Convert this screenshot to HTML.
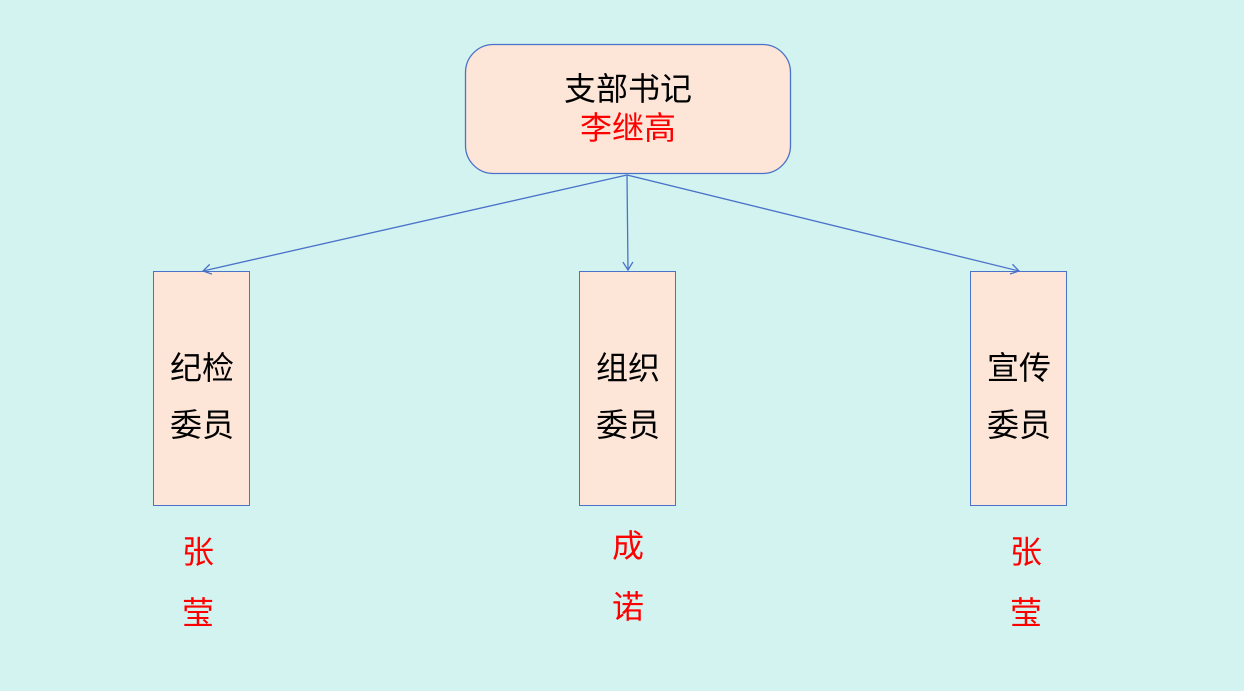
<!DOCTYPE html>
<html><head><meta charset="utf-8"><style>
body{margin:0;width:1244px;height:691px;background:#d3f3f1;position:relative;overflow:hidden;font-family:"Liberation Sans","Noto Sans CJK SC",sans-serif;}
.t{position:absolute;white-space:nowrap;text-align:center;transform:translate(-50%,-50%);font-size:32px;line-height:1;}
.r{color:#f00}
</style></head><body>
<svg width="1244" height="691" style="position:absolute;left:0;top:0">
<defs><marker id="a" markerWidth="12" markerHeight="12" refX="10" refY="6" orient="auto" markerUnits="userSpaceOnUse"><path d="M2,1 L10,6 L2,11" fill="none" stroke="#4a72c8" stroke-width="1.3"/></marker></defs>
<rect x="465.5" y="44.5" width="325" height="129" rx="28" fill="#fde6d8" stroke="#4a72c8" stroke-width="1.3"/>
<rect x="153.5" y="271.5" width="96" height="234" fill="#fde6d8" stroke="#4a72c8"/>
<rect x="579.5" y="271.5" width="96" height="234" fill="#fde6d8" stroke="#4a72c8"/>
<rect x="970.5" y="271.5" width="96" height="234" fill="#fde6d8" stroke="#4a72c8"/>
<g stroke="#4a72c8" stroke-width="1.3" fill="none">
<line x1="627" y1="175" x2="203" y2="271" marker-end="url(#a)"/>
<line x1="627" y1="175" x2="628" y2="270" marker-end="url(#a)"/>
<line x1="627" y1="175" x2="1019" y2="271" marker-end="url(#a)"/>
</g></svg>
<div class="t" style="left:628px;top:89px">支部书记</div>
<div class="t r" style="left:628px;top:128px">李继高</div>
<div class="t" style="left:202px;top:368px">纪检</div>
<div class="t" style="left:202px;top:425px">委员</div>
<div class="t" style="left:628px;top:368px">组织</div>
<div class="t" style="left:628px;top:425px">委员</div>
<div class="t" style="left:1019px;top:368px">宣传</div>
<div class="t" style="left:1019px;top:425px">委员</div>
<div class="t r" style="left:198px;top:552px">张</div>
<div class="t r" style="left:198px;top:613px">莹</div>
<div class="t r" style="left:628px;top:546px">成</div>
<div class="t r" style="left:628px;top:607px">诺</div>
<div class="t r" style="left:1026px;top:552px">张</div>
<div class="t r" style="left:1026px;top:613px">莹</div>
</body></html>
